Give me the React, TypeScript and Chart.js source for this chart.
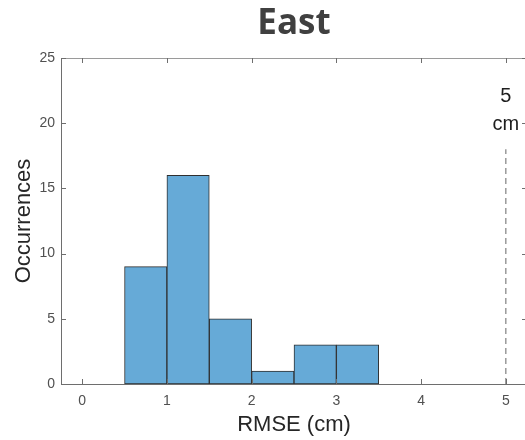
import React, { useEffect, useRef } from 'react';
import { Chart, registerables } from 'chart.js';

Chart.register(...registerables);

const chartTitle = 'East';
const binEdges = [0.5, 1, 1.5, 2, 2.5, 3, 3.5];
const counts = [9, 16, 5, 1, 3, 3];
const xTicks = [0, 1, 2, 3, 4, 5];
const yTicks = [0, 5, 10, 15, 20, 25];
const xRange = [-0.25, 5.25];
const yRange = [0, 25];
const thresholdX = 5;
const thresholdTop = 18;
const thresholdLabel = ['5', 'cm'];
const xTitle = 'RMSE (cm)';
const yTitle = 'Occurrences';

const SANS = "'Liberation Sans', Arial, Helvetica, sans-serif";

const framePlugin = {
  id: 'frame',
  afterDatasetsDraw(chart: any) {
    const { ctx, chartArea: a, scales } = chart;
    const x = scales.x;
    const y = scales.y;
    ctx.save();
    ctx.lineWidth = 1;
    ctx.strokeStyle = '#9a9a9a';
    ctx.beginPath();
    ctx.moveTo(a.left, a.top + 0.5);
    ctx.lineTo(a.right, a.top + 0.5);
    ctx.moveTo(a.right - 0.5, a.top);
    ctx.lineTo(a.right - 0.5, a.bottom);
    ctx.stroke();
    const L = 5;
    ctx.strokeStyle = '#6e6e6e';
    ctx.beginPath();
    xTicks.forEach((v) => {
      const px = Math.round(x.getPixelForValue(v)) + 0.5;
      ctx.moveTo(px, a.bottom);
      ctx.lineTo(px, a.bottom - L);
      ctx.moveTo(px, a.top);
      ctx.lineTo(px, a.top + L);
    });
    yTicks.forEach((v) => {
      const py = Math.round(y.getPixelForValue(v)) + 0.5;
      ctx.moveTo(a.left, py);
      ctx.lineTo(a.left + L, py);
      ctx.moveTo(a.right, py);
      ctx.lineTo(a.right - L, py);
    });
    ctx.stroke();

    // threshold annotation text
    const tx = x.getPixelForValue(thresholdX);
    const ty = y.getPixelForValue(thresholdTop);
    ctx.fillStyle = '#1e1e1e';
    ctx.font = `20px ${SANS}`;
    ctx.textAlign = 'center';
    ctx.textBaseline = 'middle';
    ctx.fillText(thresholdLabel[0], tx, ty - 53);
    ctx.fillText(thresholdLabel[1], tx, ty - 25);
    ctx.restore();
  },
};

export default function App() {
  const ref = useRef<HTMLCanvasElement | null>(null);

  useEffect(() => {
    if (!ref.current) return;
    const barData = counts.map((c, i) => ({ x: (binEdges[i] + binEdges[i + 1]) / 2, y: c }));
    const chart = new Chart(ref.current, {
      type: 'bar',
      data: {
        datasets: [
          {
            type: 'bar',
            data: barData as any,
            backgroundColor: '#66aad7',
            borderColor: '#2f2f2f',
            borderWidth: 1,
            borderSkipped: false,
            categoryPercentage: 1,
            barPercentage: 1,
          } as any,
          {
            type: 'line',
            data: [
              { x: thresholdX, y: 0 },
              { x: thresholdX, y: thresholdTop },
            ] as any,
            borderColor: '#8a8a8a',
            borderWidth: 1.3,
            borderDash: [6, 4],
            pointRadius: 0,
            fill: false,
          } as any,
        ],
      },
      options: {
        animation: false,
        responsive: true,
        maintainAspectRatio: false,
        layout: { padding: 0 },
        plugins: {
          legend: { display: false },
          tooltip: { enabled: false },
          title: {
            display: true,
            text: chartTitle,
            fullSize: false,
            color: '#404040',
            font: { family: "'Open Sans', sans-serif", size: 35, weight: 'bold', lineHeight: 1.2 },
            padding: { top: 3, bottom: 13 },
          },
        },
        scales: {
          x: {
            type: 'linear',
            offset: false,
            min: xRange[0],
            max: xRange[1],
            afterBuildTicks: (s: any) => {
              s.ticks = xTicks.map((v) => ({ value: v }));
            },
            afterFit: (s: any) => {
              s.height = 56;
            },
            grid: { display: false, drawTicks: false, offset: false },
            border: { display: true, color: '#6e6e6e', width: 1 },
            ticks: {
              padding: 9,
              color: '#505050',
              font: { family: SANS, size: 14 },
              maxRotation: 0,
            },
            title: {
              display: true,
              text: xTitle,
              color: '#262626',
              font: { family: SANS, size: 22, lineHeight: 1.2 },
              padding: { top: 0, bottom: 2 },
            },
          },
          y: {
            type: 'linear',
            min: yRange[0],
            max: yRange[1],
            afterBuildTicks: (s: any) => {
              s.ticks = yTicks.map((v) => ({ value: v }));
            },
            afterFit: (s: any) => {
              s.width = 61;
            },
            grid: { display: false, drawTicks: false },
            border: { display: true, color: '#6e6e6e', width: 1 },
            ticks: {
              padding: 6,
              color: '#505050',
              font: { family: SANS, size: 14 },
            },
            title: {
              display: true,
              text: yTitle,
              color: '#262626',
              font: { family: SANS, size: 22, lineHeight: 1.2 },
              padding: { top: 11, bottom: 0 },
            },
          },
        },
      } as any,
      plugins: [framePlugin],
    });
    return () => chart.destroy();
  }, []);

  return (
    <div
      style={{
        position: 'fixed',
        left: 0,
        top: 0,
        width: 525,
        height: 440,
        overflow: 'hidden',
        background: '#ffffff',
      }}
    >
      <div style={{ position: 'relative', width: 527, height: 440 }}>
        <canvas ref={ref} />
      </div>
    </div>
  );
}
